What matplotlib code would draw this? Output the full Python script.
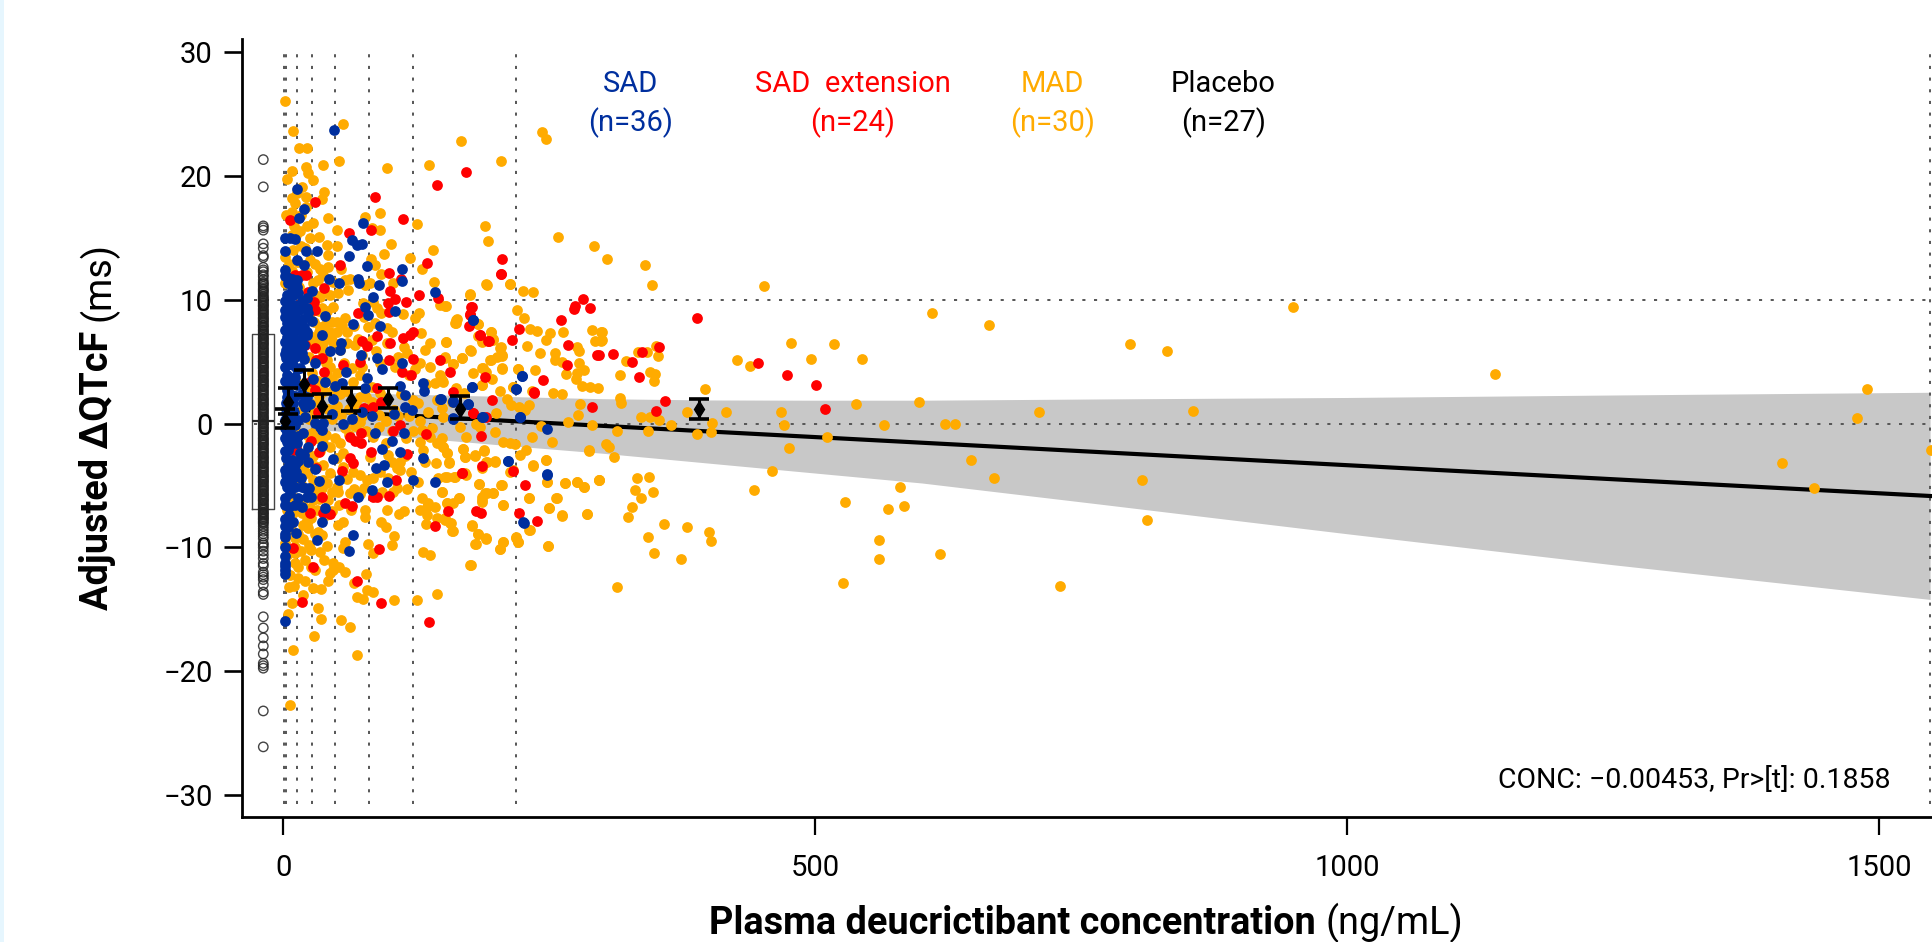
import matplotlib
matplotlib.use("Agg")
import matplotlib.pyplot as plt
from matplotlib.patches import Rectangle

plt.rcParams['font.family'] = ['Roboto', 'DejaVu Sans']

BLUE, RED, ORANGE = '#002f9e', '#ff0000', '#ffab00'

# ---------- data ----------
xticks = [0, 500, 1000, 1500]
yticks = [-30, -20, -10, 0, 10, 20, 30]
bin_edges = [0.8, 2.4, 13, 26.5, 48, 80, 122, 218.6, 1548]
ref_levels = [0, 10]

fit_x = [0, 1548]
fit_y = [1.17, -5.85]
band_x = [0, 50, 100, 150, 200, 300, 400, 500, 600, 767, 1000, 1250, 1548]
band_hi = [2.75, 2.55, 2.4, 2.3, 2.2, 2.0, 1.9, 1.88, 1.88, 1.98, 2.1, 2.3, 2.52]
band_lo = [-0.4, -0.6, -1.0, -1.33, -1.7, -2.4, -3.2, -4.0, -4.8, -6.5, -8.9, -11.4, -14.2]

bin_x = [1.4, 4.5, 19, 36.5, 63, 98.5, 166, 390.6]
bin_mean = [0.2, 1.7, 3.2, 1.4, 1.9, 2.0, 1.2, 1.14]
bin_hi = [1.17, 2.9, 4.3, 2.35, 2.85, 2.9, 2.2, 1.95]
bin_lo = [-0.4, 0.8, 2.3, 0.55, 1.03, 1.28, 0.36, 0.36]

placebo_x = -19
box_q1, box_med, box_q3 = -6.88, 0.2, 7.2
placebo_y = [21.3, 19.1, 15.95, 15.8, 15.6, 14.5, 14.15, 13.55, 13.4, 12.6, 12.4, 12.25, 12.0, 11.85, 11.6, 11.4, 11.2,
             11.05, 10.8, 10.6, 10.45, 10.2, 10.0, 9.8, 9.6, 9.45, 9.2, 9.0, 8.8, 8.55, 8.4, 8.2, 7.95, 7.8, 7.55, 7.4,
             7.2, 6.95, 6.8, 6.5, 6.35, 6.1, 5.9, 5.7, 5.5, 5.3, 5.05, 4.9, 4.6, 4.45, 4.2, 4.0, 3.8, 3.55, 3.4, 3.1,
             2.95, 2.7, 2.5, 2.3, 2.05, 1.9, 1.6, 1.45, 1.2, 1.0, 0.8, 0.55, 0.4, 0.2, -0.05, -0.3, -0.45, -0.7, -0.9,
             -1.15, -1.3, -1.6, -1.75, -2.0, -2.2, -2.4, -2.65, -2.8, -3.1, -3.25, -3.5, -3.7, -3.9, -4.15, -4.3, -4.6,
             -4.75, -5.0, -5.2, -5.4, -5.65, -5.8, -6.1, -6.25, -6.5, -6.7, -6.9, -7.15, -7.3, -7.6, -7.75, -8.0, -8.3,
             -8.7, -9.1, -9.65, -9.8, -10.3, -10.6, -10.9, -11.3, -11.5, -12.0, -12.2, -12.4, -12.6, -13.0, -13.6, -13.8,
             -15.6, -16.5, -17.3, -17.95, -18.6, -19.35, -19.55, -19.75, -23.2, -26.1]
placebo_core = [11.3, 10.9, 10.7, 10.3, 10.1, 9.9, 9.7, 9.5, 9.3, 9.1, 8.9, 8.7, 8.5, 8.3, 8.1, 7.9, 7.7, 7.5, 7.3, 7.1, 6.9,
                6.7, 6.6, 6.4, 6.2, 6.0, 5.8, 5.6, 5.4, 5.2, 5.0, 4.8, 4.7, 4.5, 4.3, 4.1, 3.9, 3.7, 3.5, 3.3, 3.2, 3.0, 2.8,
                2.6, 2.4, 2.2, 2.0, 1.8, 1.7, 1.5, 1.3, 1.1, 0.9, 0.7, 0.5, 0.3, 0.1, 0.0, -0.2, -0.4, -0.6, -0.8, -1.0,
                -1.2, -1.4, -1.5, -1.7, -1.9, -2.1, -2.3, -2.5, -2.7, -2.9, -3.0, -3.2, -3.4, -3.6, -3.8, -4.0, -4.2, -4.4,
                -4.5, -4.7, -4.9, -5.1, -5.3, -5.5, -5.7, -5.9, -6.0, -6.2, -6.4, -6.6, -6.8, -7.0, -7.2, -7.4, -7.5, -7.7,
                -7.9, -8.1, -8.5, -8.9, -9.3, -10.0]

mad_far = [(796, 6.39), (831, 5.82), (949, 9.38), (855.5, 1.04), (1139, 3.99), (807.5, -4.53), (811.6, -7.8),
           (1409, -3.2), (1439, -5.2), (1479, 0.42), (1489, 2.81), (1549, -2.14), (610, 8.95), (663, 7.97),
           (710, 0.96), (646, -2.95), (668, -4.37), (730, -13.09), (597, 1.76), (622, -0.04), (631, -0.01),
           (580, -5.12), (568, -6.87), (583, -6.66), (560, -9.39), (560, -10.93), (617, -10.53), (565, -0.15)]
mad_mid = [(304, 13.3), (339.5, 12.8), (346.4, 11.2), (452, 11.07), (299, 7.4), (299, 6.7), (477, 6.47), (518, 6.39),
           (544, 5.2), (496, 5.2), (426, 5.12), (439, 4.67), (333, 5.77), (341.4, 5.77), (350, 6.25), (352, 5.47),
           (321.6, 5.04), (316.3, 3.91), (345, 4.16), (349, 3.97), (348, 3.43), (396, 2.76), (316, 2.08), (317, 1.63),
           (336, 0.5), (345, 0.55), (353, 0.28), (364, -0.09), (379, 0.9), (416, 0.93), (402.5, 0.07), (402, -0.69),
           (389, -0.85), (342.6, -0.6), (313.5, -0.58), (303, -1.65), (305.6, -1.9), (311, -2.7), (297, -4.56),
           (332, -4.43), (343.6, -4.34), (330.4, -5.39), (347.3, -5.5), (336.4, -6.0), (328, -6.77), (323.5, -7.57),
           (357.4, -8.08), (379.3, -8.38), (400.3, -8.76), (402, -9.5), (342.6, -9.13), (348.3, -10.48),
           (373.3, -10.96), (313.5, -13.22), (468, 0.9), (470.5, -0.09), (475.5, -2.0), (511, -1.12), (538, 1.55),
           (459, -3.81), (442, -5.39), (528, -6.33), (526, -12.85)]
mad_a = [(190.7, 11.23), (212.6, 11.26), (225.4, 10.69), (234.5, 10.59), (175.6, 10.45), (151.5, 9.51), (219.5, 9.16),
         (225.8, 8.51), (162, 8.35), (161.2, 8.08), (183.1, 8.03), (231.4, 7.65), (238.6, 7.47), (250.5, 7.28),
         (246.4, 6.74), (262.7, 7.38), (290.3, 7.55), (298.8, 7.41), (293.1, 6.66), (298.8, 6.69), (194.7, 7.41),
         (183.1, 7.09), (186.3, 6.6), (197.2, 6.79), (152.7, 6.6), (228.6, 6.23), (204.4, 6.15), (175.6, 5.9),
         (241.4, 5.72), (255.5, 5.66), (276.2, 6.2), (277.8, 5.85), (167.8, 5.26), (159.6, 4.8), (151.8, 5.26),
         (194.7, 5.13), (200.4, 5.39), (205.7, 5.45), (255.5, 5.13), (261.8, 4.99), (277.8, 4.91), (186.6, 4.48),
         (190.7, 4.13), (205.4, 4.43), (220.4, 4.37), (236.7, 4.29), (282.5, 4.29), (265.2, 4.02), (275.6, 4.05),
         (274.6, 3.59), (148.7, 3.51), (186.6, 3.11), (216, 2.97), (233.3, 2.65), (253.6, 2.43), (261.8, 2.38),
         (280.6, 3), (287.8, 2.92), (295.6, 2.89), (209.8, 1.95), (213.5, 1.49), (221.7, 1.36), (230.8, 1.49),
         (227.3, 1.09), (199.7, 0.87), (278.7, 1.57), (276.5, 0.66), (267.8, 0.15), (289.7, -0.12), (242, -0.17),
         (165.9, -0.26), (180.6, -0.07), (184.7, -0.26), (198.8, -0.71), (171.5, -1.06), (233.9, -1.06), (148.7, -1.2),
         (206.6, -1.47), (212.9, -1.6), (217.6, -1.65), (252.7, -1.52), (287.5, -2.17), (169, -2.06), (188.8, -2.17),
         (227.6, -2.17), (222.3, -2.54), (180, -2.6), (170.6, -2.73), (150.2, -1.87), (153.4, -2.35), (198.8, -3.05),
         (190.3, -3.1), (246.4, -2.97), (234.8, -3.35), (155.9, -3.16), (212.9, -3.89), (151.8, -4.29), (161.2, -4.35),
         (171.5, -4.16), (247.7, -4.69), (264.6, -4.78), (275.6, -4.69), (282.5, -5.1), (296.6, -4.56), (204.4, -4.96),
         (183.8, -4.91), (148.7, -5.5), (197.2, -5.64), (191, -5.58), (186.3, -5.9), (186.3, -6.3), (165.3, -5.99),
         (159, -6.44), (153.4, -6.44), (206.6, -6.55), (230.5, -6.04), (256.5, -5.99), (249.6, -6.85), (261.8, -7.41),
         (285.6, -7.3), (151.8, -7.65), (156.5, -8), (176.9, -8.25), (158.7, -8.65), (182.5, -8.92), (190, -9.27),
         (231.7, -8.6), (180.6, -9.73), (218.5, -9.21), (220.7, -9.56), (206.6, -9.56), (203.5, -10.16), (248.3, -9.89),
         (175.6, -11.42)]
mad_b = [(1.1, 26), (8.6, 23.6), (56.3, 24.2), (14.9, 22.2), (22.4, 22.2), (21.5, 20.7), (37.4, 20.9), (51.9, 21.2),
         (8.3, 20.4), (3, 19.7), (97.3, 20.65), (136.8, 20.9), (166.9, 22.8), (204.8, 21.2), (242.7, 23.55), (246.8, 23),
         (23.3, 20.2), (28, 19.65), (17, 19.1), (38, 18.66), (35.9, 18.1), (7.7, 18.17), (12.4, 18.6), (21.2, 18.3),
         (10.8, 17.8), (2.4, 16.8), (7.7, 17.1), (21.2, 17.5), (42.1, 16.6), (76.3, 16.7), (90.7, 17), (125.8, 16.1),
         (189.8, 15.94), (192.6, 14.7), (258.4, 15.05), (292.3, 14.3), (21.8, 15.9), (15.5, 15.5), (10.2, 15.9),
         (50.6, 15.6), (82.9, 15.8), (90.7, 15.6), (33.4, 15.05), (40.9, 14.4), (50, 14.3), (100.8, 14.5), (140.9, 14),
         (42.1, 13.6), (94.5, 13.7), (82.3, 13.3), (118.9, 13.35), (1.4, 13.4), (9.2, 14), (130.6, 12.5), (34.3, 12.5),
         (42.1, 12.65), (86, 12.8), (37.4, 12), (54.4, 12.5), (91.3, 12.07), (141.8, 11.45), (191, 11.2), (212.9, 11.26),
         (62.5, 11.7), (57.8, 11.6), (32.7, 11.6), (103.2, 11.3), (81.3, 11.3), (1.4, 11.3), (60.3, 10.8), (51.6, 10.5),
         (34.3, 10.2), (76.6, 11.2), (175.4, 10.4), (74.4, 9.75), (84.5, 9.83), (46.9, 9.43), (87.5, 9.3), (112.7, 8.84),
         (127.7, 8.95), (123.9, 8.54), (147, 9.56), (152.6, 9.5), (162.8, 8.43), (161.9, 8.08), (183.2, 8.03),
         (57.8, 8.49), (50, 8.22), (54.7, 7.95), (45.3, 8.22), (39, 7.95), (34.3, 7.82), (79.8, 7.82), (97, 7.68),
         (129.3, 7.28), (194.8, 7.41), (37.4, 7.14), (43.7, 7.41), (50, 7.41), (59.4, 7.41), (31.2, 6.74), (37.4, 6.47),
         (46.9, 6.6), (67.2, 6.34), (82.9, 6.74), (97, 6.47), (113.3, 6.2), (137.7, 6.47), (133, 5.93), (152.6, 6.58),
         (186.3, 6.74), (197.2, 6.74), (203.5, 6.07), (115.8, 5.66), (73.5, 5.53), (86.6, 5.85), (151.8, 5.39),
         (167.5, 5.26), (175.9, 5.88), (194.1, 5.13), (205.1, 5.53), (159.6, 4.77), (128.3, 4.86), (137.7, 4.59),
         (187.9, 4.45), (205.1, 4.45), (220.8, 4.37), (64, 4.45), (90.7, 4.86), (104.8, 4.59), (147, 3.91), (150, 3.38),
         (142.4, 3.24), (186.3, 3.11), (216, 2.97), (50, 4.05), (71.9, 3.91), (65.7, 3.38), (73.5, 4.59), (37.4, 5.66),
         (53.1, 5.93), (82.9, 2.97), (144, 1.9), (148.7, 1.22), (136.2, 0.95), (122, 1.9), (126.8, 1.63), (90.7, 2.43),
         (71.9, 2.17)]
mad_c = [(9.2, -18.3), (68.8, -18.7), (6.4, -22.75), (28.4, -17.15), (62.5, -16.4), (54.4, -15.86), (35.6, -15.75),
         (32.7, -14.9), (4.5, -15.35), (8.3, -14.5), (18, -13.84), (34.9, -13.39), (42.1, -12.69), (46.9, -11.29),
         (38.1, -11), (14, -12.45), (57.8, -12), (52.5, -11.56), (29.6, -11.83), (43.7, -12.1), (46.9, -11.83),
         (68.8, -13.98), (75, -14.2), (78.2, -13.44), (84.5, -13.57), (103.9, -14.25), (125.5, -14.25), (144.6, -13.73),
         (77.6, -12.15), (66.3, -12.9), (40.6, -9.86), (57.8, -9.54), (56.3, -10.08), (79.8, -9.75), (84.5, -10.48),
         (101.7, -9.83), (103.9, -9.05), (130.8, -10.35), (137.7, -10.64), (176, -11.42), (180.4, -9.73), (182.5, -8.92),
         (190, -9.3), (203.5, -10.13), (206.7, -9.54), (218.6, -9.19), (220.8, -9.6), (248.3, -9.89), (176.9, -8.22),
         (231.2, -8.6), (97, -6.98), (108.6, -7.28), (113.6, -7.06), (129.9, -6.04), (136.2, -6.44), (128.3, -7),
         (134.6, -6.77), (142.4, -6.71), (134.6, -7.38), (134, -8.11), (143.9, -7.65), (151.8, -7.79), (157.7, -8.06),
         (159, -8.65), (153.4, -6.44), (165, -5.99), (148.7, -5.56), (186.3, -6.18), (189.3, -5.64), (197.2, -5.58),
         (205.1, -4.99), (183.8, -4.91), (206.7, -6.55), (230.8, -6.04), (256.8, -5.99), (249.6, -6.85), (261.5, -7.44),
         (285.6, -7.33), (76.6, -6.98), (76.6, -7.52), (91.8, -7.92), (96.4, -8.33), (63.1, -6.98), (50.9, -8.19),
         (56.3, -7.98), (52.5, -6.58), (62.5, -5.64), (71.9, -5.69), (50.9, -5.5), (32.7, -8.73), (18.6, -9.35),
         (10.8, -9.27), (1.4, -9.67), (10.8, -9.94), (3, -10.6), (10.8, -10.48), (10.8, -11.29), (14, -11.56),
         (145.6, -4.43), (153.4, -4.29), (160.3, -4.35), (170.6, -4), (264.6, -4.78), (275.6, -4.7), (282.5, -5.1),
         (296.6, -4.56), (247.7, -4.7), (234.8, -3.4), (246.4, -2.95), (287.5, -2.2), (216, -3.75), (198.9, -3.08),
         (191, -3.08), (186.3, -3.62), (170.6, -2.68), (180, -2.54), (188.8, -2.19), (169, -2.06), (155.9, -3.13),
         (143.4, -3.16), (144, -1.6), (150.2, -1.87), (153.4, -2.35), (128.3, -1.47), (131.5, -2.14), (133, -3.08),
         (109.5, -3.08), (106.4, -3.62), (109.5, -3.75), (101.7, -3.08), (98.6, -2.54), (81.3, -2.68), (65.7, -3.89),
         (71.9, -4.16), (78.2, -4.56), (90.7, -3.89), (106.4, -5.24), (103.2, -5.5), (92.3, -5.5), (50, -5.1),
         (40.6, -4.83), (43.7, -4.02), (37.4, -3.35), (43.7, -1.87), (53.1, -1.6), (50, -2.81), (56.3, -3.49), (28, -4.56),
         (31.2, -5.37), (28, -6.17), (31.2, -6.98), (21.8, -7.79), (18.6, -8.19), (23.3, -8.46), (17.1, -7.25),
         (24.9, -6.85), (18.6, -6.17), (3, -6.17), (3, -6.98), (9.2, -7.25), (21.8, -4), (18.6, -3.62), (10.8, -6.04),
         (37.4, -4.56), (37.4, -1.6), (21.8, -0.93), (24.9, -1.47), (31.2, -1.2)]
mad_dense = [(5, 9.5), (18, 9.5), (26, 10.2), (15, 11), (8, 12.3), (14, 13), (25, 13.2), (22, 12.2), (5, 12.9), (16, 14.3),
             (8, 15.2), (25, 15), (16, 16.8), (28, 16.2), (12, 15.2), (20, 14.2), (28, 11.3), (30, 12.9), (33, 9.1),
             (36, 9.3), (41, 9.1), (44, 10.4), (47, 11.4), (25, 7.1), (29, 8.2), (31, 5.1), (27, 4.1), (26, 2.6), (32, 3.4),
             (36, 3.1), (41, 3.9), (44, 4.6), (47, 2.7), (53, 2.4), (59, 2.6), (62, 1.2), (68, 1.6), (74, 0.6), (78, 2.1),
             (83, 1.7), (90, 0.7), (96, 0.2), (104, 1.1), (110, 2.4), (118, 0.6), (128, 0.2), (140, -0.4), (150, 0.5),
             (158, 1.7), (170, 2.5), (30, 0.9), (34, 1.6), (38, 2.6), (42, 1.2), (46, 0.4), (50, 1.4), (54, 0.7), (58, -0.4),
             (62, -0.9), (67, -0.2), (72, 0.1), (78, -0.6), (84, -1.1), (90, -0.3), (96, -1.6), (102, -0.6), (108, 0.6),
             (115, -1.2), (122, -0.6), (130, -0.5), (138, -1.1), (8, 0.1), (14, -0.8), (18, 1.1), (24, 0.4), (27, -0.8),
             (28, -2.6), (22, -2.2), (30, -3.4), (34, -2.2), (40, -0.9), (48, -1.2), (56, -2.4), (60, -4.5), (66, -5.3),
             (76, -5.2), (84, -4.4), (98, -4.4), (114, -2.6), (120, -3.9), (126, -4.7), (116, -5.3), (42, -6.2), (46, -7.1),
             (36, -9), (26, -10.2), (20, -11), (6, -12.2), (28, -13.3), (22, -8), (16, -4.9), (12, -2.6), (5, -1.6), (7, -8.5),
             (5, -4.6), (7, 5.1), (12, 3.4), (24, 5.4), (28, 6.4), (33, 7.4), (41, 5.1), (45, 6.9), (52, 3.2), (57, 4.9),
             (60, 6.5), (66, 7.9), (70, 6.8), (76, 8.6), (86, 8.1), (92, 8.9), (102, 7.4), (108, 5.4), (118, 3.9), (124, 4.4),
             (134, 3.2), (162, 2.9), (178, 4.1), (196, 3.6), (204, 2.6), (33, 2.2), (24, 3.2), (27, 1.6), (40, 4.9), (46, 3.5),
             (36, 6.1), (24, 8.6), (30, 10.4), (38, 10.6), (26, -7.6), (33, -6.1), (36, -5.2), (40, -7.4), (46, -5.5), (30, -8.9),
             (24, -9.8), (16, -10.3), (20, -12.7), (26, -11.6), (34, -10.4), (5, -13.2), (10, -13.1), (5, -7.4), (14, -8.9)]

red_a = [(29.3, 17.85), (6.1, 16.4), (86, 18.3), (144.6, 19.25), (171.6, 20.3), (112, 16.5), (61.6, 15.35), (81.9, 15.6),
         (205.4, 13.3), (204.6, 12.07), (134.9, 12.95), (53.1, 12.8), (99.5, 12.17), (10.8, 12), (21.2, 12), (100.2, 10.7),
         (110.5, 11.7), (38.4, 10.9), (23.3, 10.64), (127.7, 10.4), (145.6, 10.1), (176.9, 9.43), (175.4, 8.76),
         (174.7, 7.87), (29, 9.83), (29.6, 9.16), (98.6, 9.75), (104.8, 10.02), (114.8, 9.78), (99.5, 9.03), (69.7, 8.89),
         (122, 7.41), (118.9, 7.14), (87.6, 7.06), (112, 6.87), (100.1, 6.52), (74.1, 6.66), (78.8, 6.28), (184.7, 7.14),
         (192.6, 6.69), (214.5, 6.74), (221.7, 7.65), (260.6, 8.35), (267.2, 6.36), (20.2, 6.34), (30, 6.07), (35.9, 5.26),
         (30.6, 5.12), (71.9, 4.99), (98.9, 5.12), (122, 5.18), (147.1, 5.12), (56.3, 4.72), (38.1, 4.18), (111.1, 4.18),
         (156.5, 4.18), (119.9, 3.91), (189.4, 3.73), (244.3, 3.51), (29.6, 2.7), (87.6, 2.84), (159, 2.57), (195.7, 1.9),
         (235.5, 2.52), (289.7, 1.36), (294.3, 5.53), (76, 1.22), (83.8, 1.36), (91.7, 1.76), (32.7, 0.95), (177.8, 0.82),
         (109.5, -0.12), (26, 3.4), (14, 9.6), (8, 9.2), (17, 12)]
red_b = [(204.4, 12.04), (176.6, 9.43), (175.3, 8.81), (184.7, 7.14), (192.9, 6.66), (274, 9.51), (273.4, 9.27),
         (281.9, 10.02), (287.8, 9.35), (266.5, 4.72), (235.8, 2.49), (177.8, 0.87), (190.3, 0.55), (185.6, -0.98),
         (186.9, -3.4), (167.5, -4.02), (215.4, -3.86), (226.7, -4.99), (154.9, -7.03), (180.6, -7.06), (185.6, -7.25),
         (221.4, -7.2), (238.6, -7.87), (389, 8.52), (309.4, 5.64), (297, 5.5), (328, 4.99), (337.3, 5.77), (353.3, 6.17),
         (334.5, 3.78), (358.3, 1.82), (350.5, 0.98), (446, 4.86), (473.3, 3.94), (501, 3.08), (509.3, 1.14)]
red_c = [(82, -2.27), (62.5, -1.06), (67.2, -1.39), (72.9, -1.6), (72.9, -0.74), (103.2, -0.58), (133.7, -0.85),
         (33.7, -2.27), (9.2, -2.14), (62.5, -2.76), (65, -3.22), (116.5, -2.49), (54.7, -3.86), (105.8, -4.56),
         (168.1, -4.02), (35.9, -5.93), (84.5, -5.96), (88.2, -5.96), (99.5, -5.88), (57.8, -6.44), (64.1, -6.68),
         (36.8, -7.25), (43.7, -7.3), (142.8, -8.25), (8.6, -10.02), (90.1, -10.16), (27.7, -11.56), (68.8, -12.71),
         (17.1, -14.43), (91.3, -14.52), (136.8, -16), (26, -1.4), (12, -1.9), (31, -3.6), (25, -7.2)]

blue_a = [(47.8, 23.66), (13, 18.9), (19.3, 17.3), (14.9, 16.56), (75.1, 16.15), (1.4, 14.97), (6.1, 14.94), (10.8, 14.9),
          (1.7, 13.95), (20.8, 13.95), (31.8, 13.95), (64.7, 14.8), (68.8, 14.4), (73.5, 14.5), (61.9, 13.5), (13, 13.2),
          (19.3, 12.8), (78.8, 12.74), (111.7, 12.47), (111.7, 11.5), (3.6, 11.85), (43.1, 11.7), (52.5, 11.3), (70.4, 11.7),
          (71, 11.3), (90.1, 11.2), (142.7, 10.64), (27.1, 10.7), (84.5, 10.24), (76.6, 9.43), (79.8, 8.76), (104.8, 9.05),
          (177.8, 8.38), (39, 8.68), (65.7, 8.03), (90.7, 7.87), (26.5, 8.27), (21.8, 9.3), (23.3, 8.9), (36.2, 7.14),
          (9.2, 10.37), (4.5, 11.3), (12.4, 11), (7.7, 10.77), (3, 10.37), (13.9, 10.5), (1.4, 9.16), (7.7, 9.16), (6.1, 8.62),
          (10.8, 8.62), (3, 8.08), (12.4, 7.95), (1.4, 7.55), (7.7, 7.41), (15.5, 7.55), (21.8, 7.41), (3, 7.01), (17.1, 6.87),
          (21.8, 7.14), (1.4, 6.6), (2.4, 5.93), (9.2, 5.93), (17.1, 5.66), (2.4, 5.26), (10.8, 5.39), (19.3, 5.2), (1.4, 4.59),
          (9.2, 4.72), (3, 3.91), (10.8, 3.78), (15.5, 4.45), (43.7, 5.85), (54.1, 6.52), (53.1, 5.93), (72.9, 5.53),
          (87.6, 5.26), (111.1, 4.86), (58.8, 4.13), (92.9, 4.37), (39, 3.38), (54.7, 3.24), (48.4, 3.05), (78.2, 3.65),
          (109.5, 3.03), (130.8, 3.24), (132.4, 2.62), (76.6, 2.89), (176.9, 2.92), (218.3, 2.78), (223.9, 3.84), (147.1, 1.98),
          (114.2, 2.3), (114.2, 1.36), (121.1, 1.09), (173.8, 1.57), (159.6, 1.71), (46.2, 1.98), (20.2, 1.36), (21.8, 2.17),
          (8.6, 1.63), (2.4, 0.82), (13.9, 0.28), (20.2, 0.55), (3, 2.7), (3, 2.17), (2.4, 1.63), (64.7, 0.36), (82.9, 0.63),
          (103.9, 0.77), (187.2, 0.55), (222.3, 0.55), (159.6, 0.42), (55.6, -0.07), (73.5, 0.9), (45.3, 0.77), (34.3, -0.26),
          (29.6, 0.01), (37.4, 0.01), (18.6, 1.63), (10.8, -0.12)]
blue_b = [(86, -0.79), (102.3, -1.41), (113.3, -0.79), (92.3, -2.06), (109.5, -2.33), (131.5, -2.79), (211.4, -3.03),
          (247.4, -4.08), (46.9, -2.87), (94.5, -3.35), (86.6, -3.62), (29.6, -3.67), (52.2, -4.56), (97, -4.72), (121.4, -4.59),
          (142.4, -4.72), (33.8, -4.61), (82.9, -5.34), (70, -5.96), (25.6, -5.96), (24.3, -5.24), (17.1, -5.16), (10.8, -5.16),
          (3, -5.16), (10.8, -6.58), (17.7, -6.71), (1.1, -5.98), (38.7, -6.85), (35.9, -7.98), (225.5, -7.98), (65.7, -9.03),
          (31.8, -9.38), (61.3, -10.26), (1.4, -7.68), (1.4, -8.27), (9.2, -7.92), (4.5, -8.33), (11.8, -8.86), (1.1, -9.16),
          (1.4, -11.28), (1.4, -11.47), (1.4, -12.15), (1.4, -15.97), (35.9, -1.79), (19.3, -2.54), (23.3, -3.08), (10.8, -3.35),
          (2.4, -2.81), (4.5, -3.49), (2.4, -4.16), (9.2, -4.43), (3, -4.7), (18.6, -0.79), (12.4, -1.6), (3, -1.47), (7.7, -0.93),
          (23.3, -1.87), (15.5, -2.41), (3, -0.79), (4.5, -2.14), (1.4, -3.75), (7.7, -2.95), (35.9, -0.52), (177.8, 8.38),
          (223.9, 3.81), (176.9, 2.92), (218.2, 2.76), (159.6, 1.84), (173.7, 1.6), (147.7, 1.98), (159.6, 0.36), (186.9, 0.52),
          (222.3, 0.55), (247.7, -0.47), (211.3, -3.03), (247.4, -4.13), (225.8, -8)]
blue_dense = [(1.2, 9.9), (5, 9.8), (10, 9.6), (15, 9.2), (18, 8.4), (1.2, 8.6), (5, 8.3), (9, 7.9), (15, 8.2), (19, 7.8), (5, 7.2),
              (10, 6.9), (14, 6.6), (19, 6.3), (6, 6.3), (5, 5.5), (13, 5.9), (1.5, 5.6), (6, 4.8), (13, 4.4), (1.5, 3.4), (6, 3.2),
              (13, 3.1), (17, 2.4), (6, 2.4), (11, 2.2), (6, 1.3), (10, 0.9), (1.5, 0.3), (5, 0.3), (1.5, -0.4), (6, -0.3), (14, -1),
              (1.5, -1.2), (6, -1.7), (9, -1.2), (1.5, -2.2), (14, -3), (6, -3.9), (12, -3.9), (1.5, -4.7), (6, -4.7), (16, -4.4),
              (6, -5.6), (14, -6), (20, -5.2), (5, -6.7), (1.5, -6.6), (5, -7.4), (1.5, -8.9), (1.5, -10), (1.5, -10.7), (1.5, -11.8),
              (22, -5.9), (13, 11.6), (8, 11.7), (1.5, 12.4), (1.5, 11.9), (17, 9.9), (22, 10.1), (30, 4.9), (28, 3.6), (25, 1.6)]

group_label = ['SAD', 'SAD  extension', 'MAD', 'Placebo']
group_n = ['(n=36)', '(n=24)', '(n=30)', '(n=27)']
group_color = [BLUE, RED, ORANGE, 'black']
group_pos = [326.5, 535, 722.6, 883.7]

mad = mad_far + mad_mid + mad_a + mad_b + mad_c + mad_dense
red = red_a + red_b + red_c
blue = blue_a + blue_b + blue_dense

# ---------- figure ----------
W, H = 1933, 942
fig = plt.figure(figsize=(W / 100, H / 100), dpi=100, facecolor='white')
fig.patches.append(Rectangle((0, 0), 4 / W, 1, transform=fig.transFigure, color='#e6f6fe', lw=0))
ax = fig.add_axes([241.7 / W, 1 - 816.7 / H, (W - 241.7) / W, (816.7 - 39) / H])
x0, x1 = (241.7 - 283.5) / 1.0637, (W - 283.5) / 1.0637
ax.set_xlim(x0, x1)
ax.set_ylim((423.5 - 816.7) / 12.39, (423.5 - 39) / 12.39)

for s in ['top', 'right']:
    ax.spines[s].set_visible(False)
for s in ['left', 'bottom']:
    ax.spines[s].set_linewidth(2.0)

ax.fill_between(band_x, band_lo, band_hi, color='#c8c8c8', lw=0, zorder=1)
dash = (0, (1.6, 4.4))
for e in bin_edges:
    ax.plot([e, e], [-30.7, 30.4], color='#555555', lw=1.4, ls=dash, zorder=2)
for lv in ref_levels:
    ax.plot([-27.7, x1], [lv, lv], color='#555555', lw=1.4, ls=dash, zorder=2)
ax.plot(fit_x, fit_y, color='black', lw=3.0, zorder=3)

ax.bxp([dict(med=box_med, q1=box_q1, q3=box_q3, whislo=box_q1, whishi=box_q3, fliers=[])],
       positions=[placebo_x], widths=[20.4], showcaps=False, showfliers=False, manage_ticks=False, zorder=3,
       boxprops=dict(color='#444444', lw=1.0), medianprops=dict(color='#222222', lw=1.6),
       whiskerprops=dict(lw=0))
all_placebo = placebo_y + placebo_core
ax.scatter([placebo_x] * len(all_placebo), all_placebo, s=46, facecolors='none', edgecolors='#222222', linewidths=1.0,
           alpha=0.85, zorder=3.5, clip_on=False)

for pts, col, z in [(mad, ORANGE, 4), (red, RED, 4.1), (blue, BLUE, 4.2)]:
    ax.scatter([p[0] for p in pts], [p[1] for p in pts], s=60, color=col, linewidths=0, zorder=z)

yerr = [[m - l for m, l in zip(bin_mean, bin_lo)], [h - m for h, m in zip(bin_hi, bin_mean)]]
ax.errorbar(bin_x, bin_mean, yerr=yerr, fmt='d', color='black', ms=8, lw=2.2, capsize=7.2, capthick=2.6, zorder=6)

ax.set_xticks(xticks)
ax.set_yticks(yticks)
ax.set_yticklabels([str(v).replace('-', '\u2212') for v in yticks])
FS = 21
ax.tick_params(axis='y', length=13, width=1.9, labelsize=FS, pad=8)
ax.tick_params(axis='x', length=13, width=1.6, labelsize=FS, pad=14)

for name, n, c, xp in zip(group_label, group_n, group_color, group_pos):
    ax.text(xp, 27.4, name, color=c, fontsize=FS, ha='center', va='center')
    ax.text(xp, 24.3, n, color=c, fontsize=FS, ha='center', va='center')
ax.text(1511, -28.8, 'CONC: \u22120.00453, Pr>[t]: 0.1858', fontsize=20.5, ha='right', va='center')

fig.canvas.draw()
r = fig.canvas.get_renderer()
LAB = 27.3
t = fig.text(709 / W, 1 - 923 / H, 'Plasma deucrictibant concentration', fontsize=LAB, fontweight='bold', ha='left', va='center')
bb = t.get_window_extent(r)
fig.text((bb.x1 + 10) / W, 1 - 923 / H, '(ng/mL)', fontsize=LAB, ha='left', va='center')
t = fig.text(98 / W, 1 - 610 / H, 'Adjusted \u0394QTcF', fontsize=LAB, fontweight='bold', rotation=90, ha='center', va='bottom')
bb = t.get_window_extent(r)
fig.text(98 / W, (bb.y1 + 10) / H, '(ms)', fontsize=LAB, rotation=90, ha='center', va='bottom')

fig.savefig('out.png', dpi=100)
